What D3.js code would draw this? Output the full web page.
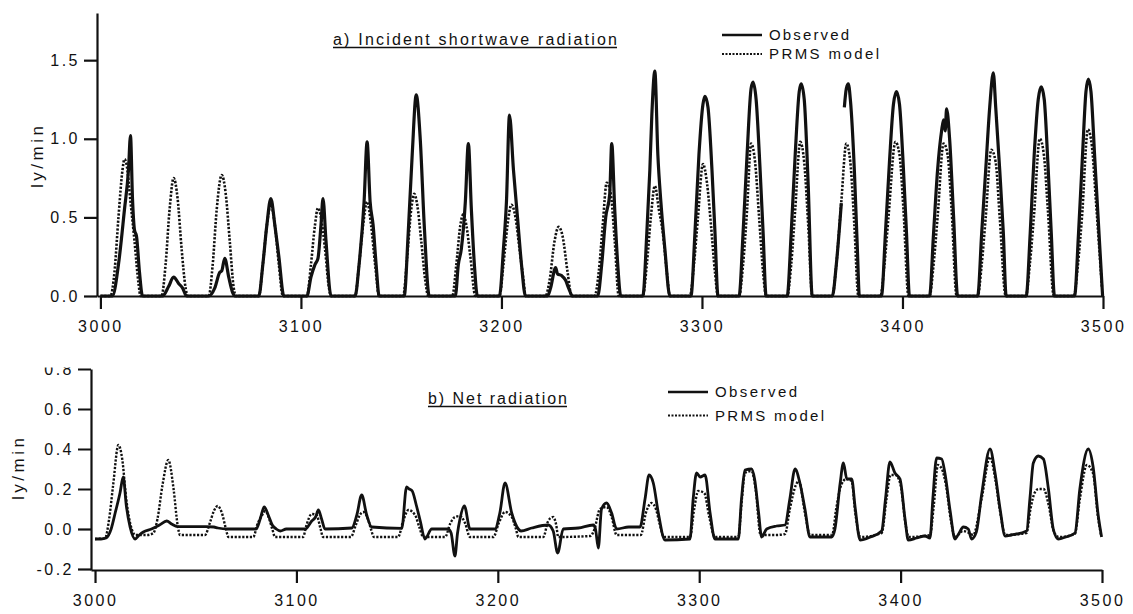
<!DOCTYPE html>
<html>
<head>
<meta charset="utf-8">
<script src="https://cdn.jsdelivr.net/npm/d3@7"></script>
<style>
  html, body { margin: 0; padding: 0; background: #fff; }
  svg { display: block; }
  .tick text { font-family: "Liberation Sans", Arial, sans-serif; font-size: 16px; letter-spacing: 2.5px; fill: #111; }
  .axis path, .axis line { stroke: #111; stroke-width: 2.2; }
  .lbl { font-family: "Liberation Sans", Arial, sans-serif; fill: #111; }
</style>
</head>
<body>
<div id="chart"></div>
<script>
// Shared x ticks (hour index)
const xTicks = [3000, 3100, 3200, 3300, 3400, 3500];
const swTicks = [0, 0.5, 1.0, 1.5];
const netTicks = [-0.2, 0, 0.2, 0.4, 0.6, 0.8];
const legendLabels = ['Observed', 'PRMS model'];

// a) Incident shortwave radiation, observed (null = gap in record)
const swObserved = [
  [3000,0],[3006,0],[3009,0.2],[3012,0.55],[3014,0.8],[3015,1.02],[3016,0.62],[3017,0.42],[3018,0.38],[3019.5,0.15],[3021,0],
  [3031,0],[3034,0.06],[3036.5,0.12],[3039,0.08],[3041,0.05],[3043,0],
  [3054,0],[3057,0.05],[3059.5,0.15],[3060.5,0.16],[3062,0.24],[3064,0.12],[3066,0.02],[3067,0],
  [3079,0],[3081,0.2],[3083,0.45],[3085,0.62],[3087,0.45],[3089,0.25],[3091.5,0],
  [3103,0],[3105,0.12],[3107,0.2],[3108.5,0.24],[3110,0.45],[3111,0.62],[3112.5,0.35],[3115,0],
  [3127,0],[3129,0.2],[3131.5,0.6],[3133,0.98],[3134.5,0.6],[3136,0.45],[3137.5,0.2],[3139,0],
  [3151.5,0],[3153.5,0.4],[3155.5,0.9],[3157.5,1.28],[3159.5,1.0],[3161.5,0.45],[3164,0],
  [3177,0],[3178.5,0.2],[3180,0.3],[3182,0.6],[3183.5,0.97],[3185,0.55],[3186.5,0.2],[3188,0],
  [3199,0],[3201,0.3],[3202.5,0.6],[3204,1.15],[3206,0.8],[3208,0.5],[3210,0.2],[3212,0],
  [3223,0],[3224.5,0.05],[3227,0.18],[3228,0.14],[3230,0.13],[3232,0.1],[3233.5,0.05],[3235.5,0],
  [3248,0],[3250,0.2],[3252,0.5],[3254,0.65],[3255,0.97],[3256.5,0.55],[3258,0.2],[3259.5,0],
  [3270.5,0],[3272.5,0.4],[3274,0.8],[3275,1.15],[3276.5,1.43],[3278,0.9],[3279.5,0.6],[3281.5,0.3],[3284,0],
  [3294.5,0],[3296.5,0.4],[3298.5,0.9],[3300.5,1.22],[3301.5,1.27],[3303,1.2],[3305,0.8],[3306.5,0.4],[3308,0],
  [3318.5,0],[3320.5,0.4],[3322.5,0.9],[3324.5,1.32],[3325.5,1.36],[3327,1.25],[3329,0.8],[3330.5,0.4],[3332,0],
  [3342.5,0],[3344.5,0.4],[3346.5,0.9],[3348.5,1.3],[3349.5,1.35],[3351,1.25],[3353,0.7],[3355,0],
  [3365,0],[3367,0.2],[3369.5,0.59],[3370.3,null],[3371,1.2],[3372,1.32],[3373,1.35],[3374,1.25],[3376,0.8],[3377.5,0.3],[3378.5,0],
  [3389.5,0],[3391.5,0.4],[3393.5,0.85],[3395.5,1.22],[3397,1.3],[3398.5,1.22],[3400.5,0.8],[3402,0.4],[3403.5,0],
  [3413.5,0],[3415.5,0.4],[3417.5,0.8],[3419.5,1.05],[3420.5,1.12],[3421.3,1.05],[3422,1.19],[3423.5,1.0],[3425.5,0.5],[3427.5,0],
  [3437.5,0],[3439.5,0.4],[3441.5,0.8],[3443.5,1.2],[3445.3,1.42],[3446.5,1.2],[3448.5,0.8],[3450.3,0.4],[3451.7,0],
  [3461.7,0],[3463.7,0.4],[3465.7,0.9],[3467.7,1.25],[3469.2,1.33],[3470.7,1.25],[3472.5,0.85],[3474.2,0.4],[3475.8,0],
  [3485.8,0],[3487.8,0.4],[3489.8,0.9],[3491.5,1.3],[3492.7,1.38],[3494,1.3],[3496,0.85],[3498,0.4],[3499.8,0]
];

// a) PRMS model
const swModel = [
  [3000,0],[3005,0],[3007,0.15],[3009,0.5],[3011,0.8],[3012,0.87],[3013,0.84],[3015,0.6],[3017,0.35],[3019,0.08],[3020,0],
  [3030.5,0],[3032.5,0.2],[3034.5,0.55],[3036.5,0.75],[3038.5,0.62],[3040.5,0.3],[3042.5,0.05],[3043.5,0],
  [3054,0],[3056,0.2],[3058,0.55],[3060.5,0.77],[3062.5,0.65],[3064.5,0.35],[3066.5,0.05],[3067.5,0],
  [3079,0],[3081,0.2],[3083,0.45],[3085,0.58],[3087,0.45],[3089,0.2],[3091,0],
  [3103,0],[3105,0.2],[3107,0.45],[3108.5,0.56],[3110,0.5],[3112,0.3],[3114,0.05],[3115,0],
  [3127,0],[3129,0.2],[3131,0.45],[3133,0.6],[3135,0.45],[3137,0.2],[3139,0],
  [3151,0],[3153,0.25],[3155,0.55],[3156.5,0.65],[3158,0.58],[3160,0.35],[3162,0.1],[3163.5,0],
  [3175.5,0],[3177.5,0.2],[3179.5,0.45],[3181,0.52],[3182.5,0.45],[3184.5,0.25],[3187,0],
  [3199,0],[3201,0.2],[3203,0.45],[3205,0.58],[3207,0.5],[3209,0.3],[3211,0.1],[3212,0],
  [3222,0],[3224,0.1],[3226.5,0.35],[3228.5,0.44],[3230.5,0.38],[3233,0.15],[3235,0],
  [3246.5,0],[3248.5,0.15],[3250.5,0.45],[3252.5,0.72],[3254.5,0.65],[3256.5,0.35],[3258.5,0],
  [3270.5,0],[3272.5,0.2],[3274.5,0.5],[3276.5,0.7],[3278.5,0.55],[3280.5,0.4],[3282.5,0.15],[3284,0],
  [3294,0],[3296,0.2],[3298,0.5],[3300.5,0.84],[3302.5,0.72],[3304.5,0.45],[3306.5,0.15],[3308,0],
  [3318.5,0],[3320.5,0.2],[3322.5,0.55],[3324.5,0.97],[3326.5,0.85],[3328.5,0.5],[3330.5,0.15],[3332,0],
  [3342.5,0],[3344.5,0.2],[3346.5,0.55],[3349,0.98],[3351,0.85],[3353,0.45],[3355,0],
  [3365,0],[3367,0.2],[3369.5,0.6],[3372,0.97],[3374,0.85],[3376,0.45],[3378,0],
  [3389,0],[3391,0.2],[3393,0.5],[3396.5,0.98],[3398.5,0.9],[3400.5,0.55],[3403,0],
  [3413.5,0],[3415.5,0.2],[3417.5,0.5],[3420.5,0.97],[3422.5,0.9],[3424.5,0.55],[3427,0],
  [3437.5,0],[3439.5,0.2],[3441.5,0.5],[3444.3,0.93],[3446.5,0.85],[3448.5,0.5],[3451.5,0],
  [3461.5,0],[3463.5,0.2],[3465.5,0.5],[3468.5,1.0],[3470.5,0.9],[3472.5,0.55],[3475.5,0],
  [3485.5,0],[3487.5,0.2],[3489.5,0.5],[3492.5,1.06],[3494.5,0.95],[3496.5,0.6],[3499.5,0.05]
];

// b) Net radiation, observed
const netObserved = [
  [3000,-0.05],[3003,-0.05],[3005.5,-0.045],[3008,0.0],[3010,0.08],[3012.4,0.18],[3014,0.26],[3015.5,0.12],[3017.4,0.01],
  [3019.9,-0.05],[3022,-0.03],[3024,-0.015],[3028,0.0],[3032,0.02],[3035.6,0.04],[3038,0.025],[3041,0.012],[3055,0.012],
  [3059,0.01],[3061,0.005],[3066,0.0],[3080,0.0],[3082,0.05],[3084,0.11],[3086,0.07],[3088,0.02],[3090,0.0],[3092,-0.01],
  [3095,0.0],[3104.3,0.0],[3107.6,0.04],[3109.5,0.06],[3110.9,0.095],[3112.5,0.05],[3114.2,0.0],[3127.5,0.005],[3130,0.07],
  [3132.4,0.17],[3134.9,0.07],[3137.4,0.01],[3152.3,0.003],[3154.7,0.21],[3156,0.2],[3157.5,0.19],[3159.5,0.12],[3161.5,0.04],
  [3163.8,-0.05],[3167.2,0.0],[3175.3,0.0],[3176.8,-0.02],[3178.7,-0.135],[3180,-0.02],[3181.2,0.05],[3183.4,0.115],
  [3186.2,0.0],[3198.6,0.0],[3201,0.08],[3203.6,0.23],[3206.9,0.08],[3210.2,0.0],[3211.5,-0.01],[3216.8,0.005],[3225,0.02],
  [3227.5,-0.01],[3229.7,-0.12],[3232.5,0.0],[3240,0.005],[3247.4,0.02],[3248.5,0.0],[3249.9,-0.095],[3251.5,0.1],[3254,0.13],
  [3256.5,0.08],[3259,0.0],[3265,0.01],[3270.6,0.01],[3273.1,0.15],[3275.1,0.27],[3277.2,0.23],[3279.7,0.08],[3283,-0.055],
  [3295.4,-0.05],[3297,0.15],[3298.7,0.28],[3300.5,0.26],[3302.9,0.27],[3305.4,0.08],[3307.8,-0.05],[3319.4,-0.05],[3321,0.15],
  [3322.7,0.295],[3326,0.3],[3327.5,0.25],[3329.5,0.08],[3331,-0.04],[3333.5,0.0],[3338.4,0.015],[3342.6,0.02],[3345,0.15],
  [3347.6,0.3],[3350,0.23],[3352.5,0.1],[3355,-0.04],[3365.8,-0.04],[3367.4,0.0],[3370,0.23],[3371.6,0.33],[3373.3,0.25],
  [3375.7,0.25],[3377.4,0.11],[3379.9,-0.055],[3385,-0.04],[3390.6,-0.01],[3392.5,0.15],[3394.7,0.335],[3397.2,0.28],
  [3399.7,0.25],[3402.2,0.05],[3403.8,-0.055],[3408,-0.045],[3412.1,-0.035],[3414.6,-0.045],[3416,0.15],[3417.9,0.355],
  [3420.4,0.35],[3422,0.28],[3424.6,0.09],[3427,-0.05],[3428.5,-0.03],[3431.2,0.01],[3433.6,0.0],[3435.2,-0.05],
  [3437.6,-0.015],[3440.2,0.17],[3444.4,0.4],[3446.9,0.28],[3449.4,0.1],[3451.9,-0.035],[3455,-0.03],[3462.6,-0.01],
  [3464.2,0.15],[3465.9,0.33],[3468.4,0.365],[3470.9,0.35],[3473.4,0.2],[3475.8,0.0],[3478.3,-0.05],[3482,-0.04],
  [3486.6,-0.02],[3489,0.2],[3493.2,0.4],[3495.6,0.31],[3498.1,0.07],[3499.8,-0.04]
];

// b) PRMS model
const netModel = [
  [3000,-0.05],[3005,-0.045],[3007,0.05],[3009,0.22],[3011.6,0.42],[3013.5,0.35],[3015.5,0.15],[3018.2,0.0],[3020,-0.03],
  [3026,-0.03],[3029,-0.02],[3031,0.05],[3033.5,0.22],[3036.4,0.345],[3039,0.2],[3041,0.02],[3042.2,-0.03],[3054.6,-0.03],
  [3057,0.03],[3059,0.09],[3060.9,0.115],[3063,0.08],[3065,0.0],[3066.2,-0.04],[3078.6,-0.04],[3080.5,0.02],[3083,0.07],
  [3084.5,0.09],[3086.5,0.05],[3088,0.0],[3089.4,-0.04],[3103.3,-0.04],[3105,0.02],[3107.6,0.075],[3110,0.07],[3112,0.0],
  [3113.2,-0.04],[3127,-0.04],[3129.5,0.02],[3131.5,0.07],[3133.2,0.085],[3135.5,0.05],[3137,0.0],[3138.5,-0.04],
  [3150.5,-0.04],[3153,0.04],[3155.6,0.095],[3158.9,0.07],[3161,0.01],[3163,-0.04],[3173.8,-0.04],[3176.5,0.03],
  [3178.7,0.06],[3181.2,0.065],[3183.7,0.03],[3186.2,-0.04],[3197.8,-0.04],[3200.5,0.03],[3203.6,0.085],[3206.9,0.06],
  [3209,0.0],[3210.2,-0.04],[3222.6,-0.04],[3225,0.04],[3227.5,0.06],[3229,0.02],[3230,-0.04],[3246,-0.035],[3248,0.0],
  [3250.7,0.1],[3254,0.11],[3256.5,0.06],[3259,-0.03],[3271,-0.03],[3273.5,0.08],[3276.3,0.13],[3278.5,0.1],[3280.5,0.02],
  [3282.5,-0.04],[3295.4,-0.04],[3297.5,0.1],[3299.5,0.19],[3302.5,0.18],[3305,0.06],[3307.8,-0.04],[3319.4,-0.04],
  [3321.2,0.15],[3322.7,0.28],[3326,0.29],[3328,0.2],[3330.5,-0.03],[3338,-0.03],[3342.6,-0.025],[3345,0.1],[3348,0.22],
  [3349.5,0.24],[3352.5,0.08],[3355,-0.03],[3366,-0.03],[3368,0.1],[3370.5,0.22],[3373,0.25],[3375.7,0.24],[3377.5,0.08],
  [3380,-0.04],[3390.6,-0.02],[3393,0.15],[3395,0.27],[3397.5,0.27],[3400,0.22],[3402.5,0.02],[3404,-0.04],[3414.6,-0.03],
  [3416.5,0.12],[3418.5,0.32],[3420.5,0.3],[3422.5,0.22],[3425,0.04],[3427,-0.04],[3431,-0.01],[3434,-0.02],[3436,-0.03],
  [3440.2,0.15],[3444.4,0.36],[3447,0.25],[3449.5,0.08],[3452,-0.03],[3462.5,-0.02],[3464.5,0.1],[3466.5,0.18],[3468.5,0.2],
  [3471,0.2],[3473.5,0.12],[3476,-0.01],[3478.5,-0.04],[3486.5,-0.025],[3489,0.15],[3492.5,0.32],[3495.5,0.28],[3498,0.06],
  [3499.5,-0.03]
];

const width = 1133, height = 614;

const svg = d3.select('#chart')
  .append('svg')
  .attr('width', width)
  .attr('height', height);

svg.append('rect').attr('width', width).attr('height', height).attr('fill', '#fff');

// clip used to cut the top of the "0.8" label like in the scan
// (applied to the translated y-axis group, so x starts well left of it)
svg.append('defs').append('clipPath')
  .attr('id', 'netClip')
  .append('rect')
  .attr('x', -200).attr('y', 367.5).attr('width', 400).attr('height', height - 367.5);

// Panel geometry (pixel frames)
const panels = [
  {
    obs: swObserved, model: swModel, yTicks: swTicks, clip: false,
    xDomain: [2998.3, 3500], xRange: [97, 1103],
    yDomain: [0, 1.8], yRange: [296, 13],
    title: 'a)  Incident  shortwave  radiation', titleX: 333, titleY: 45, titleLen: 284,
    legendX: 722, legendY: 35, legendGap: 19, legendLens: [80, 110],
    yLabelX: 37, yLabelY: 157,
    obsWidth: 3.2, modelWidth: 2.6
  },
  {
    obs: netObserved, model: netModel, yTicks: netTicks, clip: true,
    xDomain: [2998, 3500], xRange: [91, 1102],
    yDomain: [-0.205, 0.8], yRange: [570, 369],
    title: 'b)  Net  radiation', titleX: 428, titleY: 404, titleLen: 139,
    legendX: 668, legendY: 392, legendGap: 23.5, legendLens: [82, 109],
    yLabelX: 18, yLabelY: 469,
    obsWidth: 2.8, modelWidth: 2.4
  }
];

panels.forEach(p => {
  const x = d3.scaleLinear().domain(p.xDomain).range(p.xRange);
  const y = d3.scaleLinear().domain(p.yDomain).range(p.yRange);
  const g = svg.append('g');

  // y axis (plain hyphen for negatives, as in the original)
  const yAxis = g.append('g')
    .attr('class', 'axis')
    .attr('transform', `translate(${p.xRange[0]},0)`)
    .call(d3.axisLeft(y).tickValues(p.yTicks).tickFormat(d => d.toFixed(1)).tickSize(13).tickSizeOuter(0).tickPadding(4));
  if (p.clip) yAxis.attr('clip-path', 'url(#netClip)');

  // x axis
  g.append('g')
    .attr('class', 'axis')
    .attr('transform', `translate(0,${y.range()[0]})`)
    .call(d3.axisBottom(x).tickValues(xTicks).tickFormat(d3.format('d')).tickSize(13).tickSizeOuter(0).tickPadding(12));

  // y label
  g.append('text')
    .attr('class', 'lbl')
    .attr('transform', `translate(${p.yLabelX},${p.yLabelY}) rotate(-90)`)
    .attr('text-anchor', 'middle')
    .attr('dy', '0.35em')
    .attr('font-size', 17)
    .attr('textLength', 62)
    .attr('lengthAdjust', 'spacing')
    .text('ly/min');

  // series
  const line = d3.line()
    .defined(d => d[1] != null)
    .x(d => x(d[0]))
    .y(d => y(d[1]))
    .curve(d3.curveMonotoneX);

  g.append('path')
    .datum(p.model)
    .attr('fill', 'none')
    .attr('stroke', '#111')
    .attr('stroke-width', p.modelWidth)
    .attr('stroke-dasharray', '2.2,1.6')
    .attr('d', line);

  g.append('path')
    .datum(p.obs)
    .attr('fill', 'none')
    .attr('stroke', '#111')
    .attr('stroke-width', p.obsWidth)
    .attr('stroke-linejoin', 'round')
    .attr('d', line);

  // title, underlined
  g.append('text')
    .attr('class', 'lbl')
    .attr('x', p.titleX)
    .attr('y', p.titleY)
    .attr('font-size', 16)
    .attr('textLength', p.titleLen)
    .attr('lengthAdjust', 'spacing')
    .text(p.title);
  g.append('line')
    .attr('x1', p.titleX).attr('x2', p.titleX + p.titleLen)
    .attr('y1', p.titleY + 2.5).attr('y2', p.titleY + 2.5)
    .attr('stroke', '#111').attr('stroke-width', 1.4);

  // legend
  const leg = g.append('g').attr('transform', `translate(${p.legendX},${p.legendY})`);
  legendLabels.forEach((name, i) => {
    const ly = i * p.legendGap;
    leg.append('line')
      .attr('x1', 0).attr('x2', 40)
      .attr('y1', ly).attr('y2', ly)
      .attr('stroke', '#111')
      .attr('stroke-width', i === 0 ? 2.4 : 2.2)
      .attr('stroke-dasharray', i === 0 ? null : '2,1.5');
    leg.append('text')
      .attr('class', 'lbl')
      .attr('x', 47)
      .attr('y', ly)
      .attr('dy', '0.36em')
      .attr('font-size', 15)
      .attr('textLength', p.legendLens[i])
      .attr('lengthAdjust', 'spacing')
      .text(name);
  });
});
</script>
</body>
</html>
